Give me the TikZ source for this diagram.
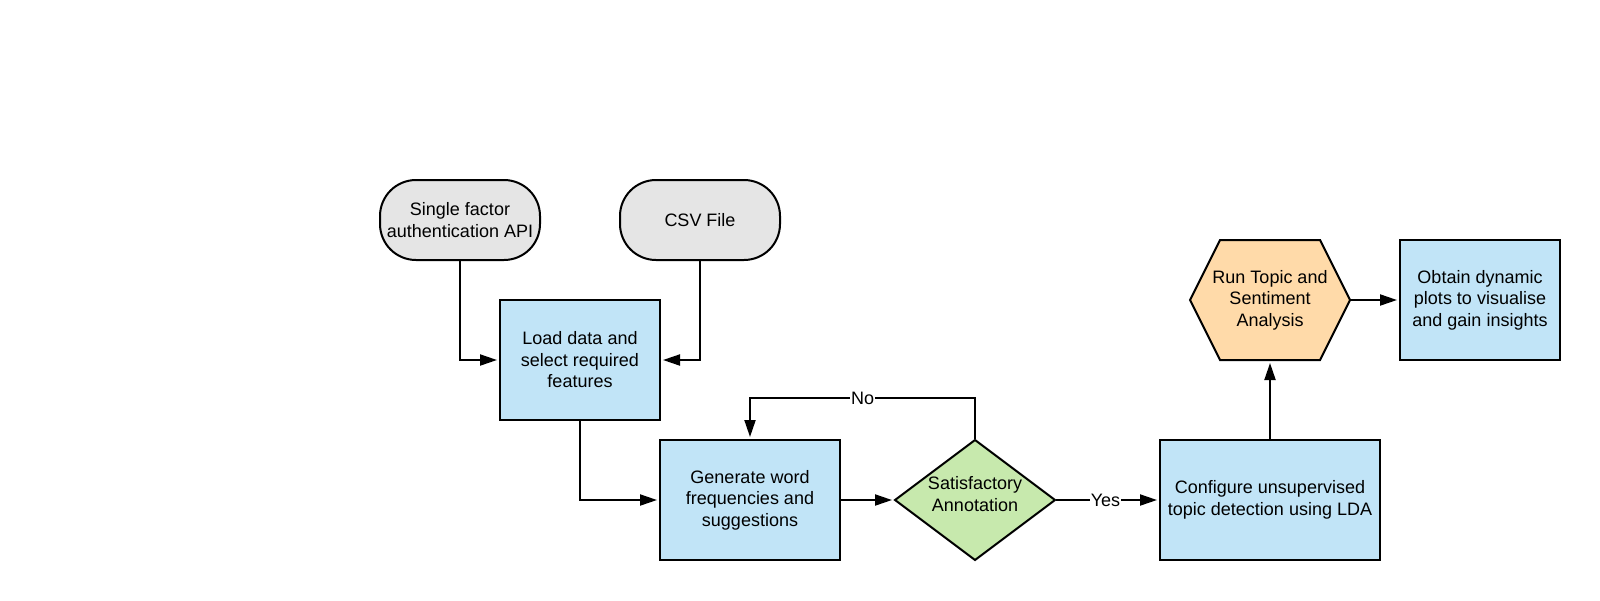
\documentclass[tikz,border=0pt]{standalone}
\usepackage{fontspec}
\setmainfont{Liberation Sans}
\usetikzlibrary{arrows.meta}
\definecolor{boxblue}{RGB}{193,228,247}
\definecolor{termgray}{RGB}{229,229,229}
\definecolor{decgreen}{RGB}{199,233,173}
\definecolor{hexorange}{RGB}{255,218,169}
\tikzset{
  base/.style={draw=black, line width=2pt, align=center, inner sep=0pt,
    font=\fontsize{18}{21.5}\selectfont},
  procbox/.style={base, fill=boxblue, rectangle},
  termbox/.style={base, fill=termgray, rectangle, rounded corners=36pt,
    minimum width=160pt, minimum height=80pt},
  anchorbox/.style={base, draw=none, rectangle},
  conn/.style={line width=2pt, -{Triangle[length=17pt,width=11pt]}, shorten >=2pt},
  lbl/.style={fill=white, inner sep=1pt, font=\fontsize{18}{21.5}\selectfont}
}
\begin{document}
\begin{tikzpicture}[x=1pt,y=-1pt]
\useasboundingbox (0,0) rectangle (1600,600);
\node[termbox] (api) at (460,220) {Single factor\\authentication API};
\node[termbox] (csv) at (700,220) {CSV File};
\node[procbox, minimum width=160pt, minimum height=120pt] (load) at (580,360) {Load data and\\select required\\features};
\node[procbox, minimum width=180pt, minimum height=120pt] (gen) at (750,500) {Generate word\\frequencies and\\suggestions};
% decision diamond
\draw[base, fill=decgreen] (895,500) -- (975,440) -- (1055,500) -- (975,560) -- cycle;
\node[anchorbox, minimum width=160pt, minimum height=120pt] (sat) at (975,500) {};
\node[anchorbox] (sattext) at (975,494) {Satisfactory\\Annotation};
\node[procbox, minimum width=220pt, minimum height=120pt] (lda) at (1270,500) {Configure unsupervised\\topic detection using LDA};
% hexagon
\draw[base, fill=hexorange] (1190,300) -- (1220,240) -- (1320,240) -- (1350,300) -- (1320,360) -- (1220,360) -- cycle;
\node[anchorbox, minimum width=160pt, minimum height=120pt] (run) at (1270,300) {Run Topic and\\Sentiment\\Analysis};
\node[procbox, minimum width=160pt, minimum height=120pt] (plot) at (1480,300) {Obtain dynamic\\plots to visualise\\and gain insights};
\coordinate (nocorner1) at (975,398);
\coordinate (nocorner2) at (750,398);
\draw[conn] (api.south) |- (load.west);
\draw[conn] (csv.south) |- (load.east);
\draw[conn] (load.south) |- (gen.west);
\draw[conn] (gen.east) -- (sat.west);
\draw[conn] (sat.north) -- (nocorner1) -- node[lbl, pos=0.5] {No} (nocorner2) -- (gen.north);
\draw[conn] (sat.east) -- node[lbl, pos=0.48] {Yes} (lda.west);
\draw[conn] (lda.north) -- (run.south);
\draw[conn] (run.east) -- (plot.west);
\end{tikzpicture}
\end{document}
